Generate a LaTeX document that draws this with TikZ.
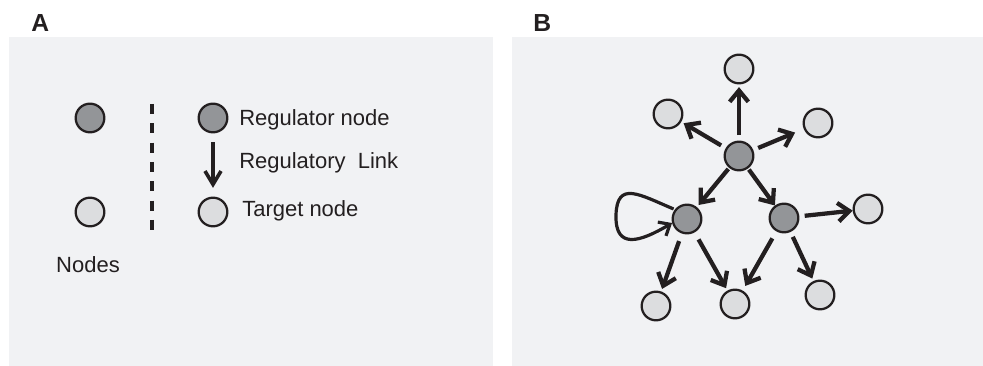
\documentclass[tikz,border=0pt]{standalone}
\usepackage{fontspec}
\setmainfont{Liberation Sans}
\usetikzlibrary{arrows.meta}

\definecolor{ink}{HTML}{231F20}
\definecolor{panelbg}{HTML}{F1F2F4}
\definecolor{regfill}{HTML}{939598}
\definecolor{tarfill}{HTML}{DCDDDF}

\begin{document}
\begin{tikzpicture}[x=0.75pt, y=-0.75pt]
 \tikzset{regulator/.style={draw=ink, circle, line width=1.7pt, fill=regfill, minimum size=21.5pt, inner sep=0pt},
          target/.style={regulator, fill=tarfill},
          link/.style={draw=ink, line width=3.2pt, line join=miter, -{Straight Barb[length=8.5pt, width=14pt]}, shorten <=4pt, shorten >=2pt},
          lbl/.style={anchor=base west, inner sep=0pt, font=\fontsize{16.5}{18}\selectfont, text=ink},
          panel/.style={font=\bfseries\fontsize{18.5}{20}\selectfont, anchor=base west, inner sep=0pt, text=ink}}
  \useasboundingbox (0,0) rectangle (983,366);
  \fill[panelbg] (9,37) rectangle (493,366);
  \fill[panelbg] (512,37) rectangle (983,366);
  \node[panel] (LabelA) at (31,32) {A};
  \node[panel] (LabelB) at (533,32) {B};

  % legend
  \node[regulator] (RegLone) at (90,118) {};
  \node[target] (TarLone) at (90,212) {};
  \node[lbl, anchor=base] (NodesTxt) at (88,273) {Nodes};
  \coordinate (DashTop) at (152,104);
  \coordinate (DashBot) at (152,230);
  \draw[ink, line width=2.4pt, dash pattern=on 7.5pt off 7pt] (DashTop) -- (DashBot);
  \node[regulator] (RegKey) at (213,118) {};
  \node[target] (TarKey) at (213,212) {};
  \draw[link, line width=2.7pt, -{Straight Barb[length=10pt, width=12pt]}, shorten <=6.5pt, shorten >=6.5pt] (RegKey) -- (TarKey);
  \node[lbl] (RegTxt) at (239,126) {Regulator node};
  \node[lbl] (LinkTxt) at (239,169) {Regulatory\ \ Link};
  \node[lbl] (TarTxt) at (242,217) {Target node};

  % network
  \node[regulator] (Hub) at (739,156) {};
  \node[regulator] (RegL) at (687,219) {};
  \node[regulator] (RegR) at (784,218) {};
  \node[target] (Top) at (739,69) {};
  \node[target] (UpL) at (668,114) {};
  \node[target] (UpR) at (818,123) {};
  \node[target] (Side) at (868,209) {};
  \node[target] (BotL) at (656,306) {};
  \node[target] (BotM) at (735,304) {};
  \node[target] (BotR) at (820,295) {};
  \draw[link] (Hub) -- (Top);
  \draw[link] (Hub) -- (UpL);
  \draw[link, shorten >=7pt] (Hub) -- (UpR);
  \draw[link, shorten <=1pt] (Hub) -- (RegL);
  \draw[link, shorten <=1pt, shorten >=0pt] (Hub) -- (RegR);
  \draw[link, shorten <=4pt, shorten >=0pt] (RegR) -- (Side);
  \draw[link, shorten <=6pt] (RegL) -- (BotL);
  \draw[link, shorten <=6pt] (RegL) -- (BotM);
  \draw[link, shorten <=6pt, shorten >=4pt] (RegR) -- (BotM);
  \draw[link, shorten <=4pt] (RegR) -- (BotR);
  % self loop on the left regulator
  \draw[link, line width=2.4pt, -{Straight Barb[length=7pt, width=12pt]}, shorten <=1pt, shorten >=0pt] (RegL.142) .. controls (640,195) and (617,180) .. (616,215) .. controls (615,250) and (640,242) .. (RegL.195);
\end{tikzpicture}
\end{document}
